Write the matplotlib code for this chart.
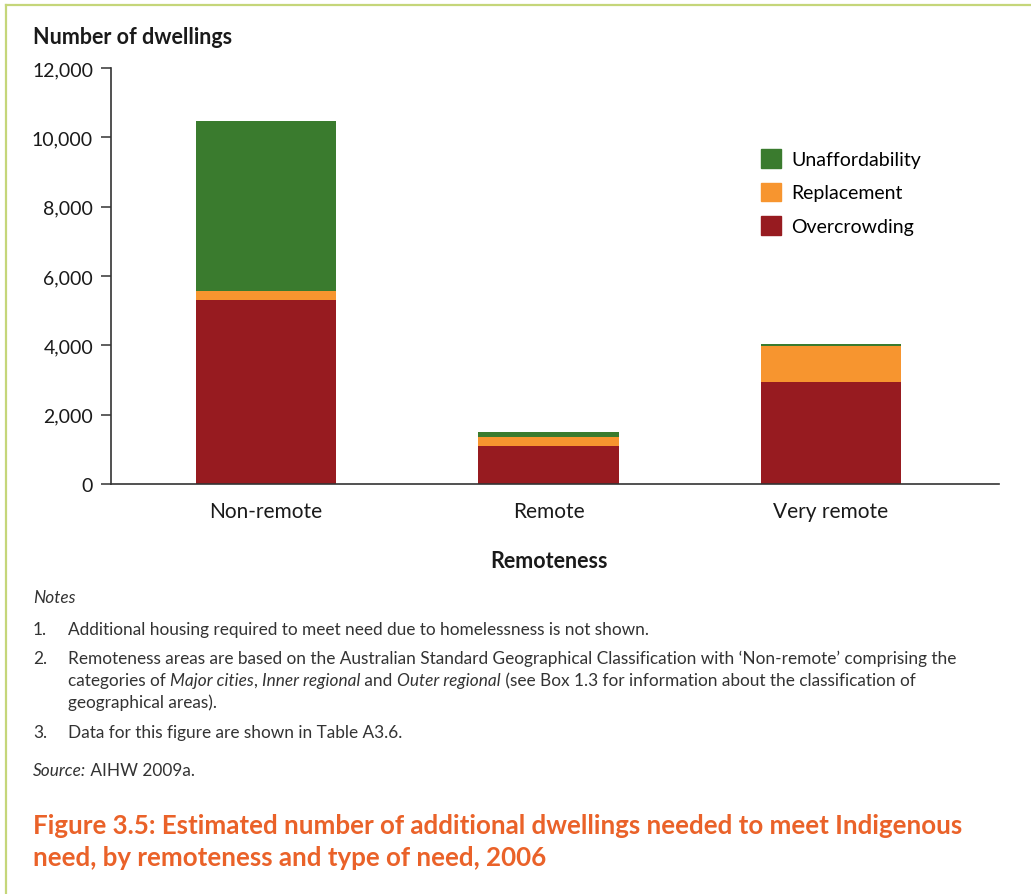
import matplotlib
matplotlib.use("Agg")
import matplotlib.pyplot as plt
from matplotlib.patches import Patch
from matplotlib.lines import Line2D
import numpy as np

# ---- data ----
categories = ["Non-remote", "Remote", "Very remote"]
overcrowding = [5300, 1100, 2950]
replacement = [270, 260, 1040]
unaffordability = [4900, 150, 60]
series_names = ["Unaffordability", "Replacement", "Overcrowding"]
y_ticks = [0, 2000, 4000, 6000, 8000, 10000, 12000]

C_GREEN = "#3A7B2E"
C_ORANGE = "#F7952F"
C_RED = "#971B20"
C_TITLE = "#EA6229"
C_TEXT = "#1A1A1A"
C_BORDER = "#C5D67A"

FONT = "Lato"
plt.rcParams["font.family"] = [FONT, "DejaVu Sans"]

W, H = 1031, 895
fig = plt.figure(figsize=(W / 100, H / 100), dpi=100)


def fx(x):
    return x / W


def fy(y):
    return 1 - y / H


# page border (top and left rules)
fig.add_artist(Line2D([fx(6), 1], [fy(5.5), fy(5.5)], color=C_BORDER, lw=1.6,
                      transform=fig.transFigure))
fig.add_artist(Line2D([fx(6), fx(6)], [fy(5.5), 0], color=C_BORDER, lw=1.6,
                      transform=fig.transFigure))

# ---- chart ----
ax_l, ax_r, ax_t, ax_b = 110.7, 998.7, 69, 485
ax = fig.add_axes([fx(ax_l), fy(ax_b), fx(ax_r - ax_l), (ax_b - ax_t) / H])

x = np.arange(len(categories))
bw = 0.496
ov = np.array(overcrowding)
rp = np.array(replacement)
un = np.array(unaffordability)
ax.bar(x, ov, bw, color=C_RED, zorder=2)
ax.bar(x, rp, bw, bottom=ov, color=C_ORANGE, zorder=2)
ax.bar(x, un, bw, bottom=ov + rp, color=C_GREEN, zorder=2)

ax.set_xlim(-0.55, 2.594)
ax.set_ylim(0, 12000)
ax.set_yticks(y_ticks)
ax.set_yticklabels([f"{v:,}" for v in y_ticks])
ax.set_xticks(x)
ax.set_xticklabels(categories)

for s in ["top", "right"]:
    ax.spines[s].set_visible(False)
for s in ["left", "bottom"]:
    ax.spines[s].set_color("#333333")
    ax.spines[s].set_linewidth(1.2)
ax.tick_params(axis="y", direction="out", length=7.2, width=1.1, color="#333333",
               labelsize=14, labelcolor=C_TEXT, pad=5.5)
ax.tick_params(axis="x", length=0, labelsize=15, labelcolor=C_TEXT, pad=12)

# legend
handles = [Patch(color=C_GREEN), Patch(color=C_ORANGE), Patch(color=C_RED)]
ax.legend(handles, series_names, loc="upper left",
          bbox_to_anchor=((761 - ax_l) / (ax_r - ax_l), (ax_b - 150) / (ax_b - ax_t)),
          frameon=False, fontsize=14, handlelength=1.05, handleheight=1.1,
          handletextpad=0.5, labelspacing=0.75, borderaxespad=0, borderpad=0)

# axis titles
fig.text(fx(33), fy(38), "Number of dwellings", fontsize=15.5, fontweight="bold",
         color=C_TEXT, va="center", ha="left")
fig.text(fx(549), fy(562), "Remoteness", fontsize=15.5, fontweight="bold",
         color=C_TEXT, va="center", ha="center")

# ---- notes ----
NOTE_FS = 12.4
NOTE_C = "#333333"


def runs(x0, y0, parts, **kw):
    """Draw consecutive text runs [(text, style), ...] starting at pixel x0."""
    r = fig.canvas.get_renderer()
    xcur = x0
    for txt, style in parts:
        t = fig.text(fx(xcur), fy(y0), txt, fontstyle=style, va="center",
                     ha="left", **kw)
        bb = t.get_window_extent(renderer=r)
        xcur += bb.width


fig.text(fx(33), fy(598), "Notes", fontsize=NOTE_FS, fontstyle="italic",
         color=NOTE_C, va="center")
fig.text(fx(33), fy(630), "1.", fontsize=NOTE_FS, color=NOTE_C, va="center")
fig.text(fx(68), fy(630),
         "Additional housing required to meet need due to homelessness is not shown.",
         fontsize=NOTE_FS, color=NOTE_C, va="center")
fig.text(fx(33), fy(659), "2.", fontsize=NOTE_FS, color=NOTE_C, va="center")
fig.text(fx(68), fy(659),
         "Remoteness areas are based on the Australian Standard Geographical "
         "Classification with \u2018Non-remote\u2019 comprising the",
         fontsize=NOTE_FS, color=NOTE_C, va="center")
runs(68, 681, [("categories of ", "normal"), ("Major cities", "italic"),
               (", ", "normal"), ("Inner regional", "italic"), (" and ", "normal"),
               ("Outer regional", "italic"),
               (" (see Box 1.3 for information about the classification of", "normal")],
     fontsize=NOTE_FS, color=NOTE_C)
fig.text(fx(68), fy(703), "geographical areas).", fontsize=NOTE_FS,
         color=NOTE_C, va="center")
fig.text(fx(33), fy(733), "3.", fontsize=NOTE_FS, color=NOTE_C, va="center")
fig.text(fx(68), fy(733), "Data for this figure are shown in Table A3.6.",
         fontsize=NOTE_FS, color=NOTE_C, va="center")
runs(33, 771, [("Source:", "italic"), (" AIHW 2009a.", "normal")],
     fontsize=NOTE_FS, color=NOTE_C)

# ---- figure caption ----
fig.text(fx(33), fy(826),
         "Figure 3.5: Estimated number of additional dwellings needed to meet Indigenous",
         fontsize=18.6, fontweight="bold", color=C_TITLE, va="center")
fig.text(fx(33), fy(858), "need, by remoteness and type of need, 2006",
         fontsize=18.6, fontweight="bold", color=C_TITLE, va="center")

fig.savefig("out.png", dpi=100, facecolor="white")
